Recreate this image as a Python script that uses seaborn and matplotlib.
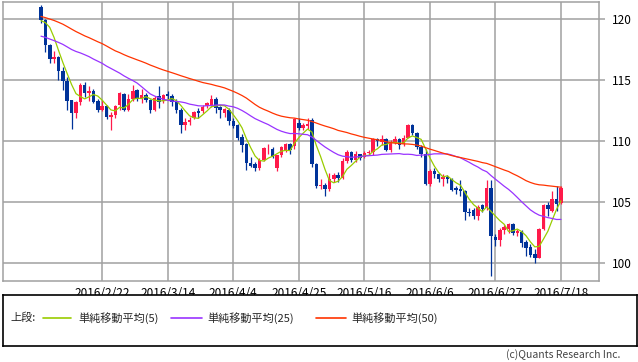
import numpy as np
import pandas as pd
import seaborn as sns
import matplotlib.pyplot as plt

# USD/JPY daily candles, 2016/2/2 - 2016/7/18 (business days)
dates = pd.bdate_range('2016-02-02', '2016-07-18')

opens = [121.05, 119.95, 117.9, 116.75, 116.9, 115.8, 114.95, 113.35, 112.3, 113.2,
         114.6, 113.95, 114.15, 113.3, 112.55, 112.9, 112.0, 112.15, 112.95, 113.9,
         112.6, 113.45, 114.2, 113.5, 113.8, 113.4, 112.6, 113.7, 113.3, 113.85,
         113.75, 113.2, 112.6, 111.35, 111.55, 111.95, 112.45, 112.5, 112.9, 112.95,
         113.5, 112.8, 112.35, 112.6, 111.7, 111.3, 110.35, 109.8, 108.2, 108.15,
         107.8, 108.5, 109.35, 109.4, 107.8, 108.9, 109.3, 109.8, 109.6, 111.5,
         111.1, 111.25, 111.75, 108.1, 106.35, 106.45, 106.1, 106.9, 107.2, 107.0,
         108.35, 109.1, 108.45, 108.95, 108.7, 109.05, 109.1, 110.15, 109.95, 110.2,
         109.3, 109.95, 110.2, 109.75, 110.3, 111.3, 110.7, 109.55, 108.95, 106.5,
         107.55, 107.35, 106.9, 107.1, 106.9, 106.2, 106.1, 105.9, 104.2, 104.35,
         103.85, 104.75, 104.5, 106.15, 102.15, 101.95, 102.7, 102.8, 103.2, 102.5,
         102.6, 101.75, 101.35, 100.8, 100.45, 102.8, 104.75, 104.3, 105.3, 104.95]
highs = [121.15, 120.05, 118.0, 117.4, 117.0, 116.1, 115.3, 113.4, 113.3, 114.8,
         114.9, 114.5, 114.3, 113.45, 113.4, 113.0, 112.4, 113.0, 114.05, 114.0,
         113.9, 114.6, 114.3, 114.3, 114.0, 113.5, 113.7, 114.5, 113.9, 114.1,
         113.9, 113.5, 112.7, 111.9, 112.0, 112.5, 112.7, 113.0, 113.2, 113.8,
         113.6, 112.9, 112.7, 112.7, 111.9, 111.4, 110.6, 109.9, 108.7, 108.3,
         108.6, 109.5, 109.8, 109.5, 108.9, 109.6, 109.9, 109.9, 111.9, 111.9,
         111.5, 111.9, 111.9, 108.2, 106.9, 106.6, 107.4, 107.4, 107.5, 108.6,
         109.3, 109.2, 109.2, 109.0, 109.2, 109.3, 110.3, 110.3, 110.5, 110.3,
         110.1, 110.4, 110.3, 110.5, 111.45, 111.4, 110.8, 109.7, 109.4, 107.7,
         107.8, 107.4, 107.3, 107.2, 107.0, 106.3, 106.8, 106.0, 104.5, 104.5,
         104.8, 104.9, 106.8, 106.8, 102.4, 102.9, 103.1, 103.3, 103.3, 102.8,
         102.7, 101.9, 101.6, 101.2, 102.9, 104.9, 105.0, 105.9, 106.3, 106.3]
lows = [119.7, 117.3, 116.4, 116.4, 115.0, 114.2, 112.6, 111.0, 111.9, 113.0,
        113.6, 113.3, 113.1, 112.4, 112.5, 111.8, 110.9, 111.9, 112.6, 112.5,
        112.5, 113.3, 113.3, 113.1, 113.2, 112.3, 112.5, 112.7, 113.1, 113.4,
        112.9, 112.3, 110.7, 110.9, 111.3, 111.8, 111.9, 112.3, 112.7, 112.8,
        112.3, 111.9, 112.0, 111.3, 111.1, 110.1, 109.15, 107.65, 107.9, 107.6,
        107.65, 108.4, 109.0, 108.6, 107.6, 108.7, 109.1, 109.0, 109.4, 110.9,
        110.9, 111.0, 107.9, 106.2, 106.1, 105.55, 105.9, 106.7, 106.7, 106.9,
        108.2, 108.3, 108.3, 108.5, 108.6, 108.9, 108.9, 109.6, 109.7, 109.2,
        109.1, 109.8, 109.4, 109.6, 110.3, 110.5, 109.4, 108.7, 106.4, 106.3,
        107.0, 106.7, 106.3, 106.6, 105.9, 105.7, 105.5, 103.55, 103.9, 103.6,
        103.55, 104.2, 104.4, 99.0, 101.4, 101.4, 102.4, 102.5, 102.3, 102.2,
        101.3, 100.6, 100.5, 100.0, 100.4, 102.7, 103.85, 104.2, 104.3, 104.9]
closes = [119.95, 117.9, 116.75, 116.9, 115.8, 114.95, 113.3, 112.3, 113.2, 114.6,
          114.0, 114.15, 113.25, 112.55, 112.9, 112.0, 112.15, 112.9, 114.0, 112.6,
          113.45, 114.15, 113.5, 113.8, 113.4, 112.6, 113.55, 113.25, 113.8, 113.75,
          113.2, 112.6, 111.35, 111.55, 111.75, 112.4, 112.35, 112.85, 113.1, 113.5,
          112.7, 112.6, 112.65, 111.7, 111.25, 110.25, 109.7, 108.2, 107.95, 107.85,
          108.45, 109.45, 109.4, 108.75, 108.85, 109.5, 109.8, 109.3, 111.8, 111.1,
          111.35, 111.45, 108.1, 106.35, 106.45, 106.1, 106.9, 107.2, 107.0, 108.35,
          109.1, 108.45, 108.95, 108.65, 109.05, 109.1, 110.15, 110.0, 110.2, 109.25,
          109.9, 110.2, 109.7, 110.3, 111.3, 110.7, 109.55, 108.95, 106.5, 107.55,
          107.35, 106.9, 107.1, 106.95, 106.05, 106.0, 105.9, 104.2, 104.1, 103.85,
          104.6, 104.45, 106.15, 102.2, 101.95, 102.75, 102.95, 103.2, 102.5, 102.65,
          101.7, 101.25, 100.7, 100.45, 102.8, 104.75, 104.45, 105.3, 104.9, 106.2]

# closes of the 49 days before the first candle (needed for the moving averages)
prior_closes = [122.6, 122.6, 122.8, 123.1, 122.8, 123.2, 122.6, 123.2, 123.3, 123.0,
                121.6, 121.6, 120.9, 120.6, 121.7, 122.3, 122.6, 121.2, 121.1, 121.0,
                120.9, 120.3, 120.3, 120.4, 120.5, 120.3, 120.2, 120.2, 119.4, 119.0,
                118.5, 117.6, 117.2, 117.6, 117.7, 118.1, 118.2, 116.9, 117.3, 117.7,
                116.9, 117.7, 118.8, 118.3, 118.4, 118.7, 118.7, 121.1, 121.0]

ma_windows = [5, 25, 50]
ma_labels = ['単純移動平均(5)', '単純移動平均(25)', '単純移動平均(50)']
ma_colors = ['#99cc00', '#9933ff', '#ff3300']
y_ticks = [100, 105, 110, 115, 120]

UP = '#ff1a4a'
DOWN = '#003399'

sns.set_style('white')
plt.rcParams['font.family'] = ['Noto Sans CJK JP', 'DejaVu Sans']

df = pd.DataFrame({'open': opens, 'high': highs, 'low': lows, 'close': closes}, index=dates)
df['x'] = np.arange(len(df))
allc = pd.Series(prior_closes + closes)
n0 = len(prior_closes)
for w in ma_windows:
    df[f'ma{w}'] = allc.rolling(w).mean().iloc[n0:].values

W, H = 638, 362
fig = plt.figure(figsize=(W / 100, H / 100), dpi=100)
ax = fig.add_axes([3 / W, 1 - 281 / H, 596 / W, 279 / H])

o = df['open'].values
c = df['close'].values
col = np.where(c >= o, UP, DOWN)
ax.vlines(df['x'], df['low'], df['high'], color=col, lw=0.9, zorder=2)
body = np.maximum(np.abs(c - o), 0.04)
ax.bar(df['x'], body, bottom=np.minimum(o, c), width=0.8, color=col, linewidth=0, zorder=3)

for w, color in zip(ma_windows, ma_colors):
    sns.lineplot(data=df, x='x', y=f'ma{w}', color=color, lw=0.9, ax=ax, zorder=4)

ax.set_xlim(-8.7, 127.7)
ax.set_ylim(98.55, 121.42)
ticks = df['x'].values[14::15]
ax.set_xticks(ticks)
ax.set_xticklabels([f'{d.year}/{d.month}/{d.day}' for d in df.index[14::15]])
ax.set_yticks(y_ticks)
ax.yaxis.tick_right()
ax.set_xlabel('')
ax.set_ylabel('')
ax.grid(True, color='#a0a0a0', lw=1.1, zorder=0)
ax.set_axisbelow(True)
ax.tick_params(axis='x', length=0, pad=4, labelsize=8.5, colors='black')
ax.tick_params(axis='y', length=4, width=1.1, color='#a0a0a0', pad=5, labelsize=8.5, labelcolor='black')
for s in ax.spines.values():
    s.set_color('#a0a0a0')
    s.set_linewidth(1.1)

# legend box
lax = fig.add_axes([3 / W, 1 - 346 / H, 634 / W, 51 / H])
lax.set_xlim(0, 634)
lax.set_ylim(0, 51)
lax.set_xticks([])
lax.set_yticks([])
for s in lax.spines.values():
    s.set_color('black')
    s.set_linewidth(1.2)
ly = 28
lax.text(7, ly, '上段:', fontsize=8, va='center', ha='left')
for (x0, x1, tx), color, lab in zip([(40, 68, 75), (168, 199, 204), (313, 343, 348)], ma_colors, ma_labels):
    lax.plot([x0, x1], [ly, ly], color=color, lw=1.2)
    lax.text(tx, ly, lab, fontsize=8, va='center', ha='left')

fig.text(620 / W, 1 - 355 / H, '(c)Quants Research Inc.', fontsize=7.5, color='#444444',
         ha='right', va='center')

fig.savefig('out.png', dpi=100)
